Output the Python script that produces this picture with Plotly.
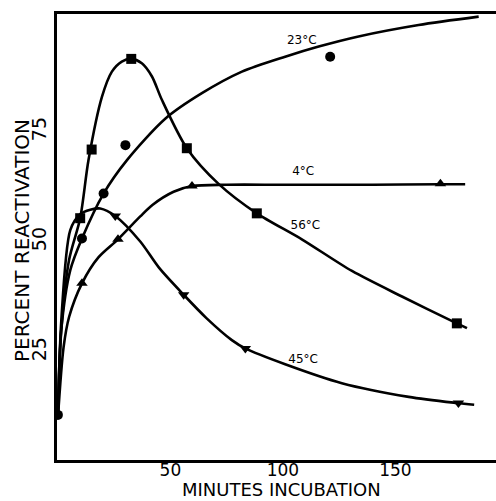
import plotly.graph_objects as go

# ---- data ----
# measured points (markers)
t23_x = [0, 10.7, 20.3, 30, 121]
t23_y = [10.7, 50.8, 61, 72, 92.1]
t56_x = [9.9, 15, 32.6, 57.3, 88.4, 177.3]
t56_y = [55.4, 71, 91.6, 71.3, 56.5, 31.5]
t45_x = [25.5, 55.9, 83.3, 178]
t45_y = [55.9, 38, 25.8, 13.4]
t4_x = [10.7, 26.7, 59.6, 170]
t4_y = [40.6, 50.6, 62.7, 63.2]

# hand-drawn smooth curves
c23_x = [0, 1.5, 5.5, 10.7, 20.3, 30.7, 47.7, 64, 81.8, 101, 115.9, 133.6, 160.3, 187]
c23_y = [10, 30, 43.6, 50.8, 61, 68.6, 78, 83.8, 88.7, 92.1, 94.4, 96.7, 99.3, 101.2]
c56_x = [0, 1.5, 5, 9.9, 13.6, 19.6, 24, 28.4, 32.6, 37.3, 41.8, 46.2, 57.3, 71.4, 88.4, 108.4, 130.7, 152.9, 177.3, 181.8]
c56_y = [10, 30, 46, 55.4, 68.6, 83, 88.7, 91, 91.6, 90.6, 87.6, 82.3, 71.3, 63.2, 56.5, 50.6, 43.4, 37.6, 31.5, 30.4]
c45_x = [0, 1.5, 5.5, 9.9, 14.4, 18.8, 25.5, 36.6, 45, 55.9, 66, 77.3, 83.3, 101, 126.2, 155.9, 177.3, 185]
c45_y = [10, 32, 52.7, 56.3, 57.3, 57.6, 55.9, 50.1, 44.1, 38, 32.7, 27.7, 25.8, 22.2, 17.9, 14.8, 13.4, 13]
c4_x = [0, 2.5, 5, 10.7, 18, 26.7, 36.6, 42, 51.4, 59.6, 75, 100, 140, 170, 181]
c4_y = [10, 26, 33, 40.6, 46.5, 50.6, 55.8, 58.4, 61.4, 62.7, 63, 63, 63, 63.1, 63.1]

labels = ["23°C", "56°C", "45°C", "4°C"]
label_x = [108.4, 110, 109, 109]
label_y = [95.7, 53.6, 23.2, 66]

x_ticks = [50, 100, 150]
y_ticks = [25, 50, 75]

FONT = "DejaVu Sans"
fig = go.Figure()

for cx, cy in [(c23_x, c23_y), (c56_x, c56_y), (c45_x, c45_y), (c4_x, c4_y)]:
    fig.add_trace(go.Scatter(x=cx, y=cy, mode="lines",
                             line=dict(color="black", width=2.6, shape="spline", smoothing=0.8),
                             hoverinfo="skip", showlegend=False))

for mx, my, sym in [(t23_x, t23_y, "circle"), (t56_x, t56_y, "square"),
                    (t45_x, t45_y, "triangle-down"), (t4_x, t4_y, "triangle-up")]:
    fig.add_trace(go.Scatter(x=mx, y=my, mode="markers",
                             marker=dict(symbol=sym, color="black", size=10),
                             showlegend=False))

fig.add_trace(go.Scatter(x=label_x, y=label_y, mode="text", text=labels,
                         textfont=dict(family=FONT, size=12, color="black"),
                         showlegend=False))

fig.update_layout(
    width=496, height=501,
    margin=dict(l=57, r=0, t=14, b=41),
    paper_bgcolor="white", plot_bgcolor="white",
    font=dict(family=FONT, color="black", size=18),
    xaxis=dict(range=[-0.4, 194.7], tickvals=x_ticks, ticktext=[str(v) for v in x_ticks],
               showgrid=False, zeroline=False, showline=True, linewidth=3,
               linecolor="black", mirror=True, ticks="", ticklabelstandoff=-7,
               tickfont=dict(family=FONT, size=17)),
    yaxis=dict(range=[0.45, 101.8], tickvals=y_ticks, ticktext=[str(v) for v in y_ticks],
               showgrid=False, zeroline=False, showline=True, linewidth=3,
               linecolor="black", ticks="", tickangle=-90,
               tickfont=dict(family=FONT, size=19)),
    annotations=[
        dict(text="MINUTES INCUBATION", xref="paper", yref="paper",
             x=0.5125, y=-0.094, xanchor="center", yanchor="bottom",
             showarrow=False, font=dict(family=FONT, size=18)),
        dict(text="PERCENT REACTIVATION", xref="paper", yref="paper",
             x=-0.08, y=0.493, xanchor="center", yanchor="middle", textangle=-90,
             showarrow=False, font=dict(family=FONT, size=20)),
    ],
)

fig.write_html("out.html")
